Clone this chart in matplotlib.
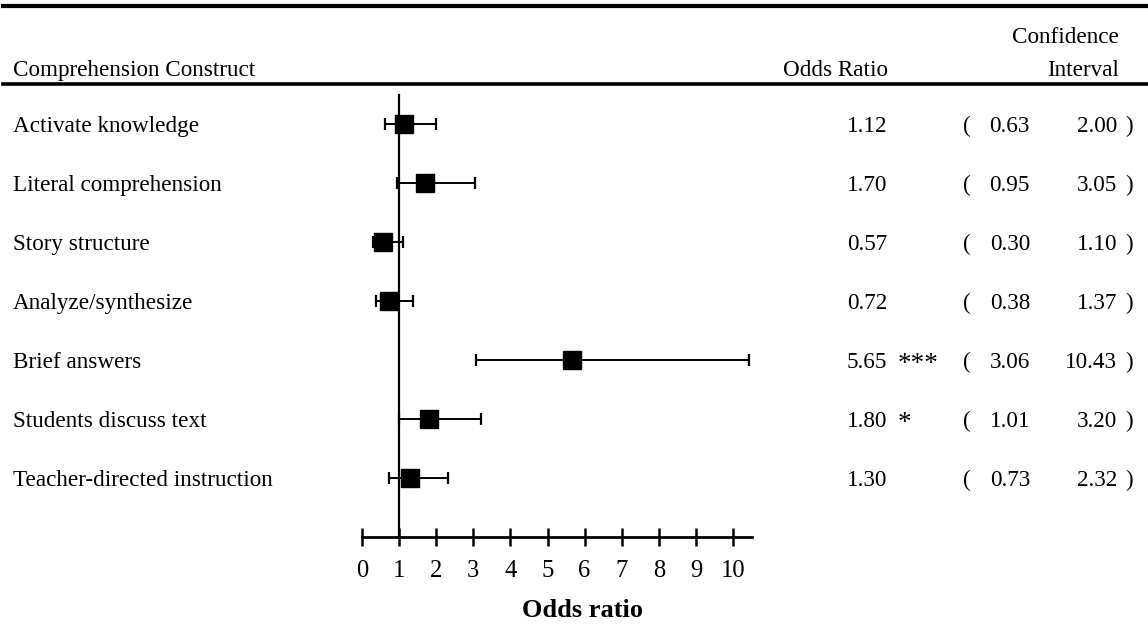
import matplotlib
matplotlib.use("Agg")
import matplotlib.pyplot as plt

# odds ratios for each comprehension construct, with 95% CI
constructs = [
    "Activate knowledge",
    "Literal comprehension",
    "Story structure",
    "Analyze/synthesize",
    "Brief answers",
    "Students discuss text",
    "Teacher-directed instruction",
]
odds_ratio = [1.12, 1.70, 0.57, 0.72, 5.65, 1.80, 1.30]
ci_low = [0.63, 0.95, 0.30, 0.38, 3.06, 1.01, 0.73]
ci_high = [2.00, 3.05, 1.10, 1.37, 10.43, 3.20, 2.32]
signif = ["", "", "", "", "***", "*", ""]
x_ticks = list(range(11))

plt.rcParams["font.family"] = ["Liberation Serif", "DejaVu Serif"]
FS = 16.7
VA = "center_baseline"

W, H = 1148, 624
fig = plt.figure(figsize=(W / 100, H / 100), dpi=100)
ax = fig.add_axes([0, 0, 1, 1])

# map data units to pixel layout: x=0 at px 362, 37.1 px per unit; rows 59 px apart
px_per_unit = 37.1
x0_px = 362
ax.set_xlim(-x0_px / px_per_unit, (W - x0_px) / px_per_unit)
row0_px, row_px = 124, 59.0
ax.set_ylim((H - row0_px) / row_px, -row0_px / row_px)

rows = list(range(len(constructs)))
err = [[o - l for o, l in zip(odds_ratio, ci_low)],
       [h - o for o, h in zip(odds_ratio, ci_high)]]
ax.errorbar(odds_ratio, rows, xerr=err, fmt="s", color="black",
            markersize=13.5, elinewidth=1.4, capsize=4.5, capthick=1.6, zorder=3)

# reference line at OR = 1 and the odds-ratio scale
axis_row = 7.0
ax.plot([1, 1], [-0.49, axis_row], color="black", lw=1.6, zorder=2)
for s in ["top", "right", "left"]:
    ax.spines[s].set_visible(False)
ax.spines["bottom"].set_position(("data", axis_row))
ax.spines["bottom"].set_bounds(0, 10.5)
ax.spines["bottom"].set_linewidth(2.0)
ax.set_xticks(x_ticks)
ax.set_xticklabels([str(t) for t in x_ticks], fontsize=17.7)
ax.tick_params(axis="x", direction="inout", length=13, width=1.8, pad=10)
ax.set_yticks([])
ax.text(5.95, 8.2, "Odds ratio", ha="center", va=VA,
        fontsize=19, fontweight="bold")

# table columns (x in figure fraction, y in rows)
tr = ax.get_yaxis_transform()
for i, name in enumerate(constructs):
    ax.text(13 / W, i, name, transform=tr, ha="left", va=VA, fontsize=FS)
    ax.text(887 / W, i, f"{odds_ratio[i]:.2f}", transform=tr,
            ha="right", va=VA, fontsize=FS)
    if signif[i]:
        ax.text(898 / W, i + 0.03, signif[i], transform=tr,
                ha="left", va=VA, fontsize=19.5)
    ax.text(963 / W, i, "(", transform=tr, ha="left", va=VA, fontsize=FS)
    ax.text(1030 / W, i, f"{ci_low[i]:.2f}", transform=tr,
            ha="right", va=VA, fontsize=FS)
    ax.text(1117 / W, i, f"{ci_high[i]:.2f}", transform=tr,
            ha="right", va=VA, fontsize=FS)
    ax.text(1125 / W, i, ")", transform=tr, ha="left", va=VA, fontsize=FS)

# header block
head_y = 1 - 68 / H
fig.text(13 / W, head_y, "Comprehension Construct", ha="left", va=VA, fontsize=FS)
fig.text(888 / W, head_y, "Odds Ratio", ha="right", va=VA, fontsize=FS)
fig.text(1119 / W, head_y, "Interval", ha="right", va=VA, fontsize=FS)
fig.text(1119 / W, 1 - 35 / H, "Confidence", ha="right", va=VA, fontsize=FS)
for y_px, lw in [(6, 3.0), (84, 2.6)]:
    fig.add_artist(plt.Line2D([3 / W, 1], [1 - y_px / H] * 2, color="black", lw=lw))

fig.savefig("out.png", dpi=100)
